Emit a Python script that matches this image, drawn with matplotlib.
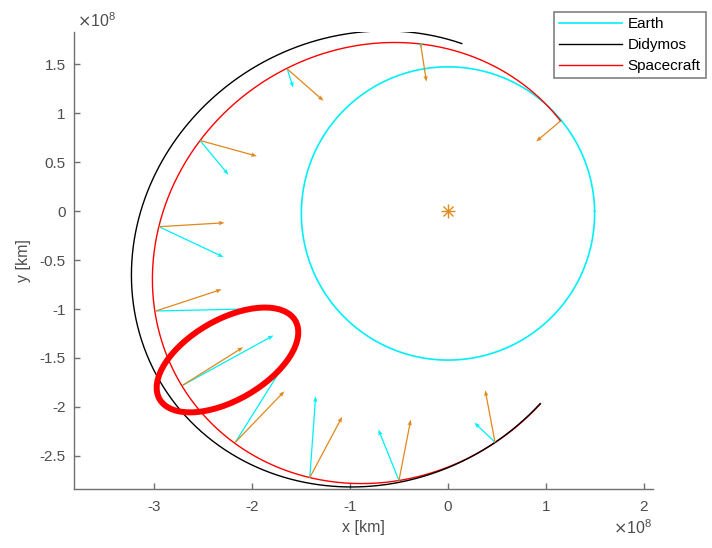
import numpy as np
import matplotlib.pyplot as plt
from matplotlib.patches import Ellipse
from matplotlib.lines import Line2D

plt.rcParams['font.family'] = ['Liberation Sans', 'DejaVu Sans']
plt.rcParams['axes.unicode_minus'] = False

# orbit elements (lengths in 1e8 km, angles in deg)
# semi-latus rectum, eccentricity, perihelion angle, start angle, end angle
earth_orbit = [1.496, 0.0167, 90.0, 0.0, 360.0]
didymos_orbit = [2.10, 0.385, 31.0, 85.3, 295.6]
craft_orbit = [2.026, 0.377, 36.6, 38.7, 295.6]

# quiver origins along the spacecraft path, and the two vector sets
qx = [1.15, -0.28, -1.64, -2.53, -2.95, -2.98, -2.71, -2.17, -1.41, -0.50, 0.48]
qy = [0.92, 1.71, 1.45, 0.72, -0.16, -1.02, -1.78, -2.36, -2.72, -2.75, -2.36]
cyan_u = [0.0, 0.01, 0.06, 0.29, 0.66, 0.94, 0.93, 0.54, 0.06, -0.21, -0.21]
cyan_v = [0.0, -0.05, -0.19, -0.35, -0.31, 0.02, 0.51, 0.86, 0.83, 0.52, 0.20]
orange_u = [-0.25, 0.06, 0.37, 0.58, 0.67, 0.67, 0.62, 0.50, 0.33, 0.12, -0.10]
orange_v = [-0.21, -0.39, -0.325, -0.16, 0.04, 0.22, 0.39, 0.52, 0.62, 0.62, 0.53]

cyan = '#00F0F8'
orange = '#E08A1E'
grey = '#4d4d4d'


def conic(el, n=500):
    p, e, w, t0, t1 = el
    th = np.radians(np.linspace(t0, t1, n))
    r = p / (1 + e * np.cos(th - np.radians(w)))
    return r * np.cos(th), r * np.sin(th)


fig = plt.figure(figsize=(7.12, 5.48), dpi=100)
ax = fig.add_axes([74/712, 59/548, 579/712, 457/548])

ex, ey = conic(earth_orbit)
dx, dy = conic(didymos_orbit)
sx, sy = conic(craft_orbit)
ax.plot(ex, ey, color=cyan, lw=1.2, zorder=2)
ax.plot(sx, sy, color='r', lw=1.0, zorder=2)
ax.plot(dx, dy, color='k', lw=1.0, zorder=2.5)

qkw = dict(angles='xy', scale_units='xy', scale=1, width=0.0022,
           headwidth=3.5, headlength=4.5, headaxislength=4, minlength=0)
ax.quiver(qx, qy, cyan_u, cyan_v, color=cyan, zorder=3, **qkw)
ax.quiver(qx, qy, orange_u, orange_v, color=orange, zorder=3.5, **qkw)

# the sun, drawn as a MATLAB style asterisk
ax.plot(0, 0, '+', color=orange, markersize=10, markeredgewidth=1.0, zorder=4)
ax.plot(0, 0, 'x', color=orange, markersize=7, markeredgewidth=1.0, zorder=4)

# red highlight ring
ax.add_patch(Ellipse((-2.25, -1.52), 1.60, 0.82, angle=30, fill=False,
                     ec='red', lw=4.3, zorder=6, clip_on=False))

ax.set_xlim(-3.816, 2.092)
ax.set_ylim(-2.837, 1.827)
ax.set_xticks([-3, -2, -1, 0, 1, 2])
ax.set_xticklabels(['-3', '-2', '-1', '0', '1', '2'])
ax.set_yticks([-2.5, -2, -1.5, -1, -0.5, 0, 0.5, 1, 1.5])
ax.set_yticklabels(['-2.5', '-2', '-1.5', '-1', '-0.5', '0', '0.5', '1', '1.5'])
for s in ['top', 'right']:
    ax.spines[s].set_visible(False)
for s in ['left', 'bottom']:
    ax.spines[s].set_color('#707070')
    ax.spines[s].set_linewidth(1.0)
ax.tick_params(direction='in', length=4, width=1.0, color='#707070',
               labelcolor=grey, labelsize=11)
ax.tick_params(axis='x', pad=8)
ax.tick_params(axis='y', pad=6)
ax.set_xlabel('x [km]', fontsize=11.5, color=grey, labelpad=4)
ax.set_ylabel('y [km]', fontsize=11.5, color=grey, labelpad=6)

fig.text(77/712, 1 - 27/548, r'$\times\mathregular{10^8}$', fontsize=11.5,
         color=grey, ha='left', va='baseline')
fig.text(652/712, 1 - 534/548, r'$\times\mathregular{10^8}$', fontsize=11.5,
         color=grey, ha='right', va='baseline')

handles = [Line2D([], [], color=cyan, lw=1.2),
           Line2D([], [], color='k', lw=1.0),
           Line2D([], [], color='r', lw=1.0)]
leg = fig.legend(handles, ['Earth', 'Didymos', 'Spacecraft'], loc='upper right',
                 bbox_to_anchor=(706/712, 1 - 12/548), fontsize=11,
                 handlelength=4.1, fancybox=False, framealpha=1,
                 edgecolor='#808080', borderaxespad=0, labelspacing=0.45,
                 handletextpad=0.4, borderpad=0.35)
leg.get_frame().set_linewidth(1.2)

fig.savefig('out.png', dpi=100)
